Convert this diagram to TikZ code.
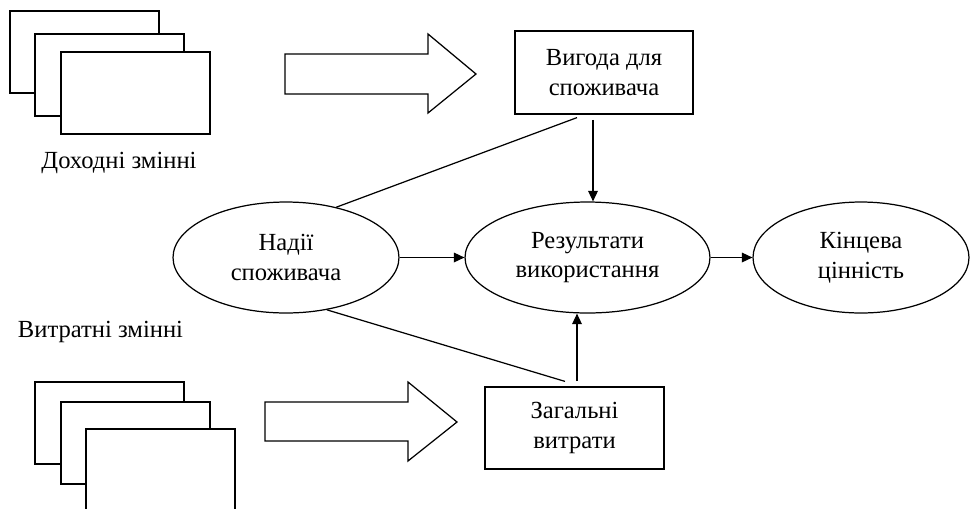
\documentclass[tikz,border=0pt]{standalone}
\usepackage{fontspec}
\setmainfont{Liberation Serif}
\usetikzlibrary{shapes.geometric,arrows.meta}

\tikzset{
    every node/.style={font=\fontsize{14}{17}\selectfont, align=center},
    linebox/.style={draw, line width=0.7pt, rectangle, inner sep=0pt},
    oval/.style={draw, line width=0.7pt, ellipse, inner sep=0pt, minimum height=2.22cm},
    arr/.style={-{Triangle[length=6pt,width=5.5pt]}, line width=0.7pt},
    link/.style={line width=0.7pt},
    sheet/.style={draw, fill=white, line width=0.7pt},
    bigarrow/.style={draw, fill=white, line width=0.7pt}
}

\begin{document}
\begin{tikzpicture}[x=0.02cm, y=-0.02cm]
    \useasboundingbox (0,0) rectangle (970,508);

    %Income variables (stack of sheets)
    \foreach \sx/\sy in {10/11, 35/34, 61/52}
        \draw[sheet] (\sx,\sy) rectangle ++(149,82);
    \node[anchor=base] (incomelabel) at (119,168) {Доходні змінні};

    %Cost variables (stack of sheets, cut by the page edge)
    \node[anchor=base] (costlabel) at (100.5,337) {Витратні змінні};
    \begin{scope}
        \clip (0,0) rectangle (970,508);
        \foreach \sx/\sy in {35/382, 61/402, 86/429}
            \draw[sheet] (\sx,\sy) rectangle ++(149,82);
    \end{scope}

    % Add the two block arrows
    \draw[bigarrow] (285,54) -- (428,54) -- (428,34) -- (476,74) -- (428,113) -- (428,94) -- (285,94) -- cycle;
    \draw[bigarrow] (265,402) -- (408,402) -- (408,382) -- (457,422) -- (408,461) -- (408,441) -- (265,441) -- cycle;

    % Add the boxes
    \node[linebox, minimum width=3.56cm, minimum height=1.66cm] (benefit) at (604,72.5) {Вигода для\\споживача};
    \node[linebox, minimum width=3.58cm, minimum height=1.64cm] (cost) at (574.5,428) {Загальні\\витрати};

    % Add the ovals
    \node[oval, minimum width=4.52cm] (hope) at (286,257.5) {Надії\\споживача};
    \node[oval, minimum width=4.9cm] (result) at (587.5,257.5) {Результати\\використання};
    \node[oval, minimum width=4.32cm] (final) at (861,257.5) {Кінцева\\цінність};

    % Add the arrows between the ovals
    \draw[arr] (hope) -- (result);
    \draw[arr] (result) -- (final);

    % Add the arrows from the boxes
    \draw[arr, shorten <=3pt] ([xshift=-0.22cm]benefit.south) -- ([xshift=-0.22cm]benefit.south |- result.north);
    \draw[arr, shorten <=3pt] ([xshift=0.05cm]cost.north) -- ([xshift=0.05cm]cost.north |- result.south);

    % Add the plain lines from the expectations
    \draw[link] (hope.45) -- ([xshift=-0.54cm, yshift=-0.06cm]benefit.south);
    \draw[link] (hope.-52) -- ([xshift=-0.19cm, yshift=0.1cm]cost.north);
\end{tikzpicture}
\end{document}
